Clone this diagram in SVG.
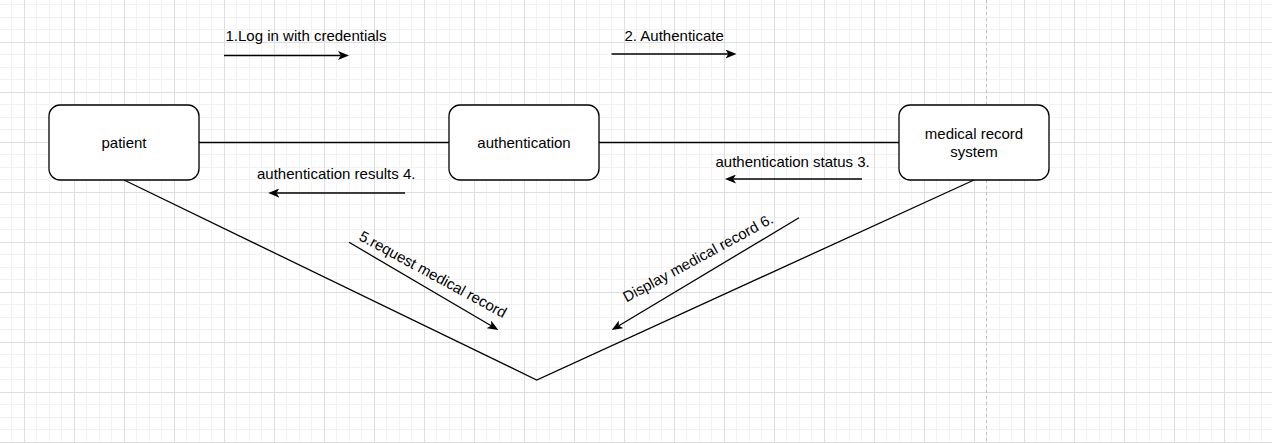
<svg xmlns="http://www.w3.org/2000/svg" width="1272" height="443" viewBox="0 0 1272 443">
  <defs>
    <pattern id="grid" patternUnits="userSpaceOnUse" x="24" y="42" width="50" height="50">
      <rect x="0" y="0" width="50" height="50" fill="#ffffff"/>
      <g fill="#f2f2f2">
        <rect x="12" y="0" width="1" height="50"/>
        <rect x="25" y="0" width="1" height="50"/>
        <rect x="37" y="0" width="1" height="50"/>
        <rect x="0" y="12" width="50" height="1"/>
        <rect x="0" y="25" width="50" height="1"/>
        <rect x="0" y="37" width="50" height="1"/>
      </g>
      <g fill="#dedede">
        <rect x="0" y="0" width="1" height="50"/>
        <rect x="0" y="0" width="50" height="1"/>
      </g>
    </pattern>
    <marker id="arrow" viewBox="0 0 11 9" refX="2.75" refY="4.5" markerWidth="11" markerHeight="9" markerUnits="userSpaceOnUse" orient="auto">
      <path d="M0,0 L11,4.5 L0,9 L2.75,4.5 Z" fill="#000000"/>
    </marker>
    <style>
      .node rect { fill: #ffffff; stroke: #000000; stroke-width: 1.3; }
      .lbl { font-family: "Liberation Sans", Arial, sans-serif; font-size: 15px; fill: #000000; }
      .ctr { text-anchor: middle; }
      .edge { stroke: #000000; stroke-width: 1.3; fill: none; }
      .msg { stroke: #000000; stroke-width: 1.3; fill: none; marker-end: url(#arrow); }
    </style>
  </defs>

  <rect x="0" y="0" width="1272" height="443" fill="url(#grid)"/>
  <line x1="986.5" y1="0" x2="986.5" y2="443" stroke="#c2c2c2" stroke-width="1" stroke-dasharray="3 3"/>

  <g id="connectors">
    <line class="edge" x1="199" y1="142.5" x2="449" y2="142.5"/>
    <line class="edge" x1="599" y1="142.5" x2="899" y2="142.5"/>
    <polyline class="edge" points="124,180 536.7,380 974,180"/>

    <g id="msg1">
      <line class="msg" x1="224" y1="55.5" x2="340.75" y2="55.5"/>
      <text class="lbl" x="225.5" y="41">1.Log in with credentials</text>
    </g>
    <g id="msg2">
      <line class="msg" x1="611.5" y1="54" x2="728.25" y2="54"/>
      <text class="lbl" x="624.5" y="41">2. Authenticate</text>
    </g>
    <g id="msg3">
      <line class="msg" x1="862" y1="179" x2="733.25" y2="179"/>
      <text class="lbl" x="715.5" y="167">authentication status 3.</text>
    </g>
    <g id="msg4">
      <line class="msg" x1="405" y1="193" x2="276.5" y2="193"/>
      <text class="lbl" x="257" y="179">authentication results 4.</text>
    </g>
    <g id="msg5">
      <line class="msg" x1="349" y1="242.3" x2="491.2" y2="325.8"/>
      <text class="lbl" transform="translate(358,239.5) rotate(28.5)">5.request medical record</text>
    </g>
    <g id="msg6">
      <line class="msg" x1="799" y1="217.7" x2="618.8" y2="325.8"/>
      <text class="lbl" transform="translate(626.5,302.5) rotate(-28.5)">Display medical record 6.</text>
    </g>
  </g>

  <g id="patient" class="node">
    <rect x="49" y="105" width="150" height="75" rx="11.25" ry="11.25"/>
    <text class="lbl ctr" x="124" y="148">patient</text>
  </g>
  <g id="authentication" class="node">
    <rect x="449" y="105" width="150" height="75" rx="11.25" ry="11.25"/>
    <text class="lbl ctr" x="524" y="148">authentication</text>
  </g>
  <g id="medical-record-system" class="node">
    <rect x="899" y="105" width="150" height="75" rx="11.25" ry="11.25"/>
    <text class="lbl ctr" x="974" y="138.7">medical record</text>
    <text class="lbl ctr" x="974" y="156.7">system</text>
  </g>
</svg>
